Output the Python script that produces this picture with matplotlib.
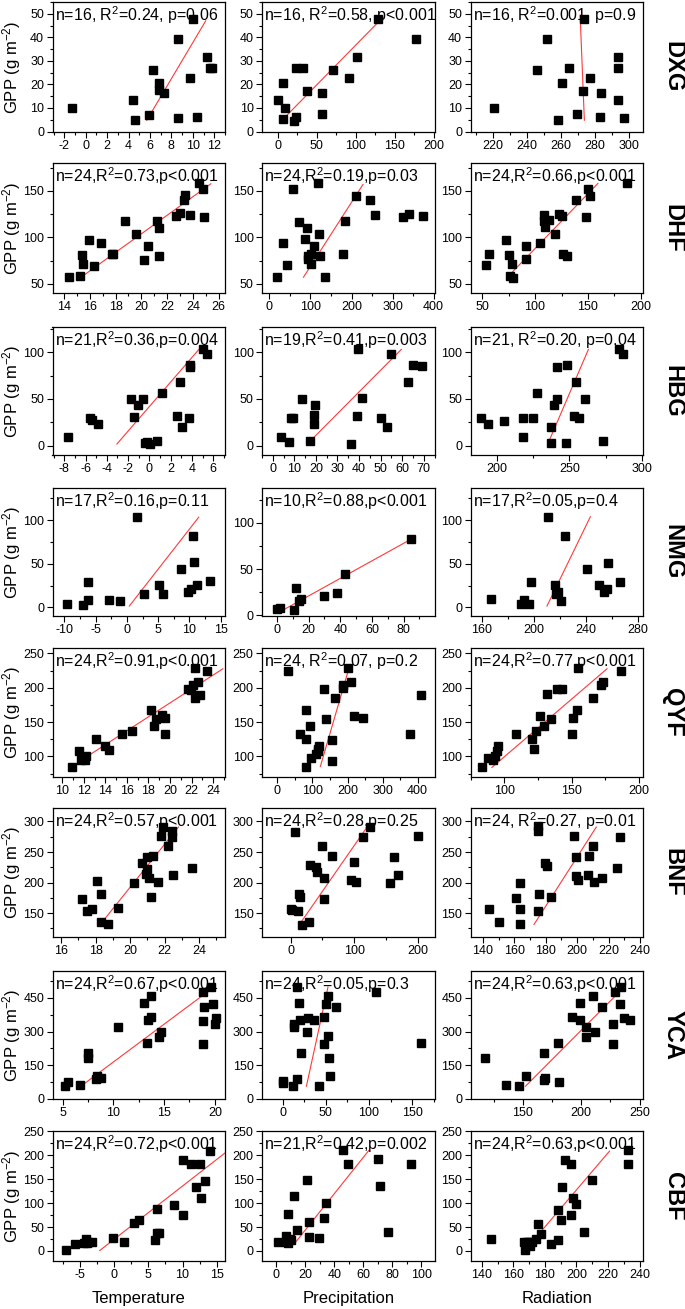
import matplotlib
matplotlib.use('Agg')
import matplotlib.pyplot as plt
from matplotlib.ticker import MultipleLocator, AutoMinorLocator

plt.rcParams['font.family'] = ['Liberation Sans', 'DejaVu Sans']
plt.rcParams['mathtext.default'] = 'regular'
plt.rcParams['axes.unicode_minus'] = False

sites = ['DXG', 'DHF', 'HBG', 'NMG', 'QYF', 'BNF', 'YCA', 'CBF']
drivers = ['Temperature', 'Precipitation', 'Radiation']

# ---- DXG ----
dxg_temp_x = [-1.3, 4.4, 4.6, 5.9, 6.3, 6.8, 6.8, 7.3, 8.6, 8.6, 9.7, 10.0, 10.4, 11.3, 11.6, 11.8]
dxg_temp_y = [10.1, 13.2, 4.8, 7.2, 26.3, 20.7, 17.5, 16.2, 39.2, 5.6, 22.8, 47.6, 6.3, 31.7, 27.0, 27.0]
dxg_temp_fit = ([5.7, 11.2], [4.8, 47.0])
dxg_prec_x = [0, 6.3, 7.4, 9.7, 21, 23.4, 23.4, 32.6, 37.7, 56.6, 56.6, 71.4, 92, 101.7, 129, 177]
dxg_prec_y = [13.2, 20.6, 5.5, 10.1, 4.5, 6.3, 27, 27, 17.3, 16.2, 7.3, 26.3, 22.8, 31.7, 47.6, 39.2]
dxg_prec_fit = ([5.7, 135], [4.8, 48.5])
dxg_rad_x = [221, 252, 246, 261, 258.5, 265, 269.5, 273, 273.5, 277.5, 283.5, 283, 293.5, 294, 294, 297.5]
dxg_rad_y = [10.1, 39.2, 26.3, 20.6, 4.8, 27, 7.3, 17.3, 47.6, 22.8, 16.2, 6.3, 31.7, 27.0, 13.2, 5.6]
dxg_rad_fit = ([271.5, 274], [49.5, 4.8])

# ---- DHF ----
dhf_temp_x = [14.4, 15.2, 15.4, 15.5, 15.9, 16.3, 16.9, 17.7, 17.8, 18.7, 19.6, 20.2,
              20.5, 21.2, 21.4, 21.4, 22.7, 23.0, 23.3, 23.4, 23.8, 24.5, 24.8, 24.9]
dhf_temp_y = [57, 58, 81, 71, 97, 69, 94, 82, 82, 118, 104, 76,
              91, 117, 80, 110, 123, 126, 140, 145, 124, 158, 152, 122]
dhf_temp_fit = ([15.2, 25.4], [55.8, 157.6])
dhf_prec_x = [18, 33, 44, 57, 73, 86, 92, 93, 95, 101, 102, 108,
              119, 121, 124, 135, 178, 185, 210, 245, 256, 325, 340, 375]
dhf_prec_y = [57, 94, 70, 152, 116, 98, 110, 77, 80, 82, 71, 91,
              158, 104, 80, 57, 82, 118, 144, 140, 124, 122, 125, 123]
dhf_prec_fit = ([83, 228], [57, 157])
dhf_rad_x = [54, 56.6, 72.5, 75.8, 76.6, 78.3, 79.5, 91, 91.8, 105, 108.2, 108.6,
             109.4, 113.5, 119, 122.5, 125.8, 126, 130, 139, 148.4, 150, 152, 187]
dhf_rad_y = [70, 81.6, 97, 81, 58, 71, 56.5, 90.6, 77, 94, 124, 118,
             111, 118.7, 104, 125.5, 123.4, 81.6, 80, 140, 121.6, 151.8, 144, 158]
dhf_rad_fit = ([73.4, 159.4], [56.5, 158])

# ---- HBG ----
hbg_temp_x = [-7.6, -5.6, -5.4, -4.85, -1.7, -1.4, -1.07, -0.6, -0.45, -0.25, 0.08,
              0.7, 1.15, 2.6, 2.9, 3.05, 3.7, 3.8, 3.8, 5.06, 5.4]
hbg_temp_y = [9.7, 30, 27.8, 23, 50, 30.7, 43, 50, 2.9, 3.6, 2.2,
              5, 56, 31.8, 68.6, 19.9, 29.2, 86.3, 83.8, 103.6, 98.2]
hbg_temp_fit = ([-3.05, 4.65], [1.8, 103])
hbg_prec_x = [3.9, 7.6, 8.6, 9.2, 13.4, 19.5, 19.1, 18.9, 17.3, 36.2, 39, 39.7,
              41.2, 50, 53.1, 54.6, 62.8, 65.1, 69]
hbg_prec_y = [9.7, 3.6, 29.2, 29.2, 50, 43, 32.9, 23, 5.4, 1.8, 31.8, 103.6,
              50.5, 29.6, 19.9, 98.2, 68.6, 86, 85]
hbg_prec_fit = ([16.5, 59.6], [2.9, 103])
hbg_rad_x = [189, 194, 205, 218, 218, 225, 228, 237, 237.5, 239.5, 241.5,
             241.5, 247.5, 248.5, 253, 254.5, 256.5, 260.5, 273, 284, 287]
hbg_rad_y = [29.6, 23, 26.7, 29.6, 9.7, 29.6, 56, 19.9, 2.5, 43.3, 50,
             84, 3.2, 86, 31.8, 68.6, 29.6, 50, 5.4, 103.6, 98.2]
hbg_rad_fit = ([235, 263], [1.5, 103])

# ---- NMG ----
nmg_temp_x = [-9.6, -7.1, -6.3, -6.3, -2.9, -1.1, 1.6, 2.8, 5.1, 5.7, 8.7, 9.8,
              10.3, 10.5, 10.7, 11.2, 13.3]
nmg_temp_y = [3.5, 2.7, 8, 29, 8.8, 7, 104, 15.8, 25.4, 15.4, 44, 17,
              21, 82, 51.5, 26, 30.4]
nmg_temp_fit = ([0.4, 11.5], [1.5, 103.5])
nmg_prec_x = [0, 1.7, 11, 12.2, 13.9, 15.2, 29.5, 37.7, 43, 85]
nmg_prec_y = [6.5, 8, 5.4, 29.7, 15.2, 17, 20.6, 24.3, 44.2, 82.6]
nmg_prec_fit = ([4.9, 85], [6.5, 82.6])
nmg_rad_x = [167, 190, 192.5, 196.5, 198, 211, 216, 217, 218.5, 221, 224,
             241, 250, 254, 256, 257, 266]
nmg_rad_y = [9.2, 3.5, 8.5, 3.5, 29.2, 104, 25.4, 15, 17, 6.9, 82.3,
             43.8, 25.4, 17, 20.8, 51.2, 29.2]
nmg_rad_fit = ([210, 243.3], [1.5, 104])

# ---- QYF ----
qyf_temp_x = [10.9, 11.6, 11.7, 12.2, 12.1, 13.1, 14.0, 14.3, 15.5, 16.5, 18.2, 18.5,
              18.7, 19.3, 19.5, 19.55, 21.7, 22.1, 22.3, 22.35, 22.55, 22.8, 23.4, 21.9]
qyf_temp_y = [85, 108.3, 94.7, 101, 95, 125.2, 114.6, 109.7, 132.5, 137.4, 168, 143.7,
              154.9, 159.7, 155.8, 132.5, 198, 203.4, 228.6, 185, 208, 189.8, 223.8, 197]
qyf_temp_fit = ([11.5, 24.9], [91.7, 227.7])
qyf_prec_x = [29, 64, 81, 81, 81, 94, 96, 109, 116, 115, 119, 134,
              137.5, 156, 156, 164, 187.5, 187.5, 202.5, 209, 219, 244, 379, 409]
qyf_prec_y = [223.8, 132.5, 167, 125.7, 85, 143.7, 97.6, 103.9, 107.3, 111, 114.6, 198,
              154.9, 123.3, 94, 185, 199.5, 204.4, 228.6, 208.3, 158.3, 155.8, 132.5, 189.8]
qyf_prec_fit = ([122.5, 204], [85.4, 228.6])
qyf_rad_x = [83.8, 88, 91.9, 92.9, 94.5, 95.1, 109.1, 120.5, 121.8, 123.7, 126.9, 129.2,
             131.8, 134.7, 139, 143.2, 150.3, 151.3, 154.2, 154.5, 165.9, 172.1, 173, 187]
qyf_rad_y = [85, 97.6, 95, 101, 107.3, 114.6, 132.5, 125.2, 110.7, 137.4, 158.3, 144.7,
             190.8, 154.9, 198, 198.5, 132.5, 155.8, 168, 228.6, 185, 203.4, 208.3, 223.8]
qyf_rad_fit = ([90.9, 176.3], [84, 227.7])

# ---- BNF ----
bnf_temp_x = [17.2, 17.5, 17.8, 18.1, 18.3, 18.3, 18.7, 19.3, 20.2, 20.7, 20.9, 20.95,
              21.0, 21.1, 21.2, 21.3, 21.6, 21.8, 21.9, 22.2, 22.4, 22.4, 22.5, 23.6]
bnf_temp_y = [173.4, 153.3, 157.6, 203, 181, 135.3, 131.5, 158.7, 198.9, 232, 214, 222.8,
              241.8, 207, 176, 243, 201, 276.6, 290.2, 260.3, 283.7, 274.5, 213, 224]
bnf_temp_fit = ([18.3, 22.8], [132.6, 290.8])
bnf_prec_x = [0, 7.6, 11, 13.1, 14.5, 17.2, 29, 30.3, 39.3, 42, 49.7, 52.4,
              65, 51.7, 95, 99.3, 103.4, 113.8, 124, 156, 162, 168.3, 200, 1.4]
bnf_prec_y = [157, 282, 153, 181, 176, 131, 135, 229, 225, 217, 260, 208,
              243, 173, 204, 233, 201, 274, 291, 199, 242, 212, 277, 155]
bnf_prec_fit = ([13.8, 120.7], [131.5, 291.8])
bnf_rad_x = [144, 150, 160.8, 163.6, 163.6, 163.6, 175.3, 175.6, 179.4, 180.8, 183.6, 175.3,
             175.3, 197.8, 199.2, 199.2, 200.3, 206.7, 207.5, 210, 210.8, 215.8, 225.6, 227.5]
bnf_rad_y = [157.6, 135.3, 174, 199.5, 157.6, 131.5, 154.3, 181.5, 232, 226.6, 176.6, 291.8,
             283.7, 276.6, 241.3, 210.3, 204.3, 213, 243, 260.3, 201, 207.6, 224, 274.5]
bnf_rad_fit = ([172.5, 212.2], [131.5, 290.8])

# ---- YCA ----
yca_temp_x = [5.2, 5.5, 6.7, 7.5, 7.5, 8.3, 8.4, 8.8, 10.5, 13.0, 13.3, 13.4,
              13.75, 13.75, 14.5, 14.7, 18.8, 18.9, 18.8, 18.8, 19.6, 19.8, 20.0, 20.1]
yca_temp_y = [56, 76.7, 63.4, 180, 203.5, 88.5, 103, 91.4, 321.5, 427.7, 247.8, 351,
              365.8, 457, 277.3, 298, 475, 410, 346.6, 246.3, 498.5, 423.3, 331.9, 361.4]
yca_temp_fit = ([6.8, 20.0], [56, 501.5])
yca_prec_x = [0.5, 0.5, 11.7, 13.3, 13.3, 16.3, 16.8, 18.4, 20.4, 21.4, 28, 29,
              36.2, 42.3, 47.4, 47.4, 50.5, 52, 52, 53.6, 55, 61.7, 107.7, 160.7]
yca_prec_y = [81, 70.8, 56, 334.8, 320, 498.5, 88.5, 427.7, 351, 203.5, 298, 361,
              351, 56, 365.8, 246.3, 424.8, 457, 280, 180, 103, 410, 475, 247.8]
yca_prec_fit = ([27.5, 52.5], [56, 498.5])
yca_rad_x = [117.5, 135.4, 146.6, 152.2, 168, 168, 169, 180.2, 181, 192.2, 198.9, 198.9,
             204.1, 204.5, 210, 211.6, 217.5, 226.9, 226.9, 228.7, 233.2, 234.3, 236.9, 241.8]
yca_rad_y = [180, 63.4, 56, 103, 85.5, 203.5, 91, 247.8, 76.7, 365.8, 351, 427.7,
             321.5, 277.3, 457, 298, 410, 334.8, 246.3, 475, 424.8, 498.5, 361.4, 351]
yca_rad_fit = ([152.2, 236.9], [56, 498.5])

# ---- CBF ----
cbf_temp_x = [-7.1, -5.7, -4.4, -4.05, -3.95, -3.75, -3.3, -0.2, 1.4, 2.9, 3.6, 6.2,
              6.0, 6.2, 6.6, 8.7, 10.1, 11.3, 12.5, 11.9, 12.7, 13.3, 14.0, 10.1]
cbf_temp_y = [1.4, 15.3, 17.4, 24.3, 16, 19.4, 18, 26.4, 18.8, 57.6, 64.6, 86.8,
              22.9, 38.2, 36.8, 97.2, 190, 182, 182, 133, 111, 147, 210, 76]
cbf_temp_fit = ([-2.1, 16.2], [1, 205])
cbf_prec_x = [1.2, 7, 7, 8.5, 8.5, 9.4, 12, 21, 14.5, 22.4, 22.4, 29.7, 33.3, 34.2,
              45.8, 49.7, 70.3, 71.5, 76.7, 92.7, 10]
cbf_prec_y = [19.3, 31.7, 19, 77.8, 16, 24, 115, 149, 43, 60.6, 29.6, 27.5, 68.9, 100.5,
              212, 183, 191.5, 135, 40, 182, 22]
cbf_prec_fit = ([13.3, 64], [18, 211])
cbf_rad_x = [146, 166.5, 167.5, 168.5, 170, 172, 174.5, 175.8, 177.5, 183.6, 188.5, 188.5,
             190.5, 190.8, 193, 196.8, 196.5, 197.5, 199.5, 204.5, 210, 233, 233, 170.5]
cbf_rad_y = [26, 18, 2, 18, 18, 18, 24, 57, 36, 15, 23, 86,
             64, 133, 190, 183, 76, 110, 98, 40, 148, 212, 182, 11]
cbf_rad_fit = ([168, 221], [4, 209])

stats = {
    'DXG': ['n=16, R$^2$=0.24, p=0.06', 'n=16, R$^2$=0.58, p<0.001', 'n=16, R$^2$=0.001, p=0.9'],
    'DHF': ['n=24,R$^2$=0.73,p<0.001', 'n=24,R$^2$=0.19,p=0.03', 'n=24,R$^2$=0.66,p<0.001'],
    'HBG': ['n=21,R$^2$=0.36,p=0.004', 'n=19,R$^2$=0.41,p=0.003', 'n=21, R$^2$=0.20, p=0.04'],
    'NMG': ['n=17,R$^2$=0.16,p=0.11', 'n=10,R$^2$=0.88,p<0.001', 'n=17,R$^2$=0.05,p=0.4'],
    'QYF': ['n=24,R$^2$=0.91,p<0.001', 'n=24, R$^2$=0.07, p=0.2', 'n=24,R$^2$=0.77,p<0.001'],
    'BNF': ['n=24,R$^2$=0.57,p<0.001', 'n=24,R$^2$=0.28,p=0.25', 'n=24, R$^2$=0.27, p=0.01'],
    'YCA': ['n=24,R$^2$=0.67,p<0.001', 'n=24,R$^2$=0.05,p=0.3', 'n=24,R$^2$=0.63,p<0.001'],
    'CBF': ['n=24,R$^2$=0.72,p<0.001', 'n=21,R$^2$=0.42,p=0.002', 'n=24,R$^2$=0.63,p<0.001'],
}

data = {
    'DXG': [(dxg_temp_x, dxg_temp_y, dxg_temp_fit), (dxg_prec_x, dxg_prec_y, dxg_prec_fit), (dxg_rad_x, dxg_rad_y, dxg_rad_fit)],
    'DHF': [(dhf_temp_x, dhf_temp_y, dhf_temp_fit), (dhf_prec_x, dhf_prec_y, dhf_prec_fit), (dhf_rad_x, dhf_rad_y, dhf_rad_fit)],
    'HBG': [(hbg_temp_x, hbg_temp_y, hbg_temp_fit), (hbg_prec_x, hbg_prec_y, hbg_prec_fit), (hbg_rad_x, hbg_rad_y, hbg_rad_fit)],
    'NMG': [(nmg_temp_x, nmg_temp_y, nmg_temp_fit), (nmg_prec_x, nmg_prec_y, nmg_prec_fit), (nmg_rad_x, nmg_rad_y, nmg_rad_fit)],
    'QYF': [(qyf_temp_x, qyf_temp_y, qyf_temp_fit), (qyf_prec_x, qyf_prec_y, qyf_prec_fit), (qyf_rad_x, qyf_rad_y, qyf_rad_fit)],
    'BNF': [(bnf_temp_x, bnf_temp_y, bnf_temp_fit), (bnf_prec_x, bnf_prec_y, bnf_prec_fit), (bnf_rad_x, bnf_rad_y, bnf_rad_fit)],
    'YCA': [(yca_temp_x, yca_temp_y, yca_temp_fit), (yca_prec_x, yca_prec_y, yca_prec_fit), (yca_rad_x, yca_rad_y, yca_rad_fit)],
    'CBF': [(cbf_temp_x, cbf_temp_y, cbf_temp_fit), (cbf_prec_x, cbf_prec_y, cbf_prec_fit), (cbf_rad_x, cbf_rad_y, cbf_rad_fit)],
}

# axis limits and tick steps: (xlim, xstep) per column, (ylim, ystep) per panel
xaxes = {
    'DXG': [((-3.1, 13), 2), ((-20, 201), 50), ((207, 308.5), 20)],
    'DHF': [((13.1, 26.5), 2), ((-18, 402), 100), ((39, 202), 50)],
    'HBG': [((-9.1, 7.1), 2), ((-5, 75), 10), ((182, 300.5), 50)],
    'NMG': [((-11.9, 15.7), 5), ((-9.5, 99.6), 20), ((151.3, 283.7), 40)],
    'QYF': [((9.1, 25.1), 2), ((-44, 448), 100), ((75, 203), 50)],
    'BNF': [((15.5, 25.5), 2), ((-45, 226), 100), ((132, 242), 20)],
    'YCA': [((4, 21), 5), ((-24, 176), 50), ((105, 253), 50)],
    'CBF': [((-9, 16.2), 5), ((-9.7, 109), 20), ((132.8, 242.2), 20)],
}
yaxes = {
    'DXG': [((-0.2, 55), 10)] * 3,
    'DHF': [((40, 180), 50)] * 3,
    'HBG': [((-10, 127), 50)] * 3,
    'NMG': [((-10, 137), 50), ((-1, 138), 50), ((-10, 137), 50)],
    'QYF': [((70, 258), 50)] * 3,
    'BNF': [((111, 322), 50)] * 3,
    'YCA': [((-1, 570), 150)] * 3,
    'CBF': [((-21, 251), 50)] * 3,
}

W, H = 685, 1309
col_left = [52.5, 262, 470.5]
col_w = 172.5
row_top = [2, 163, 327, 488, 648, 808, 971, 1131]
row_h = [130, 130, 128, 128, 129, 129, 128, 130]

fig = plt.figure(figsize=(W / 100, H / 100), dpi=100)

for r, site in enumerate(sites):
    for c in range(3):
        ax = fig.add_axes([col_left[c] / W, 1 - (row_top[r] + row_h[r]) / H,
                           col_w / W, row_h[r] / H])
        x, y, fit = data[site][c]
        ax.plot(fit[0], fit[1], color='#ff3838', lw=0.8, zorder=2)
        ax.plot(x, y, 's', color='black', ms=5.4, zorder=3)
        (xl, xs), (yl, ys) = xaxes[site][c], yaxes[site][c]
        ax.set_xlim(xl)
        ax.set_ylim(yl)
        ax.xaxis.set_major_locator(MultipleLocator(xs))
        ax.yaxis.set_major_locator(MultipleLocator(ys))
        ax.xaxis.set_minor_locator(AutoMinorLocator(2))
        ax.yaxis.set_minor_locator(AutoMinorLocator(2))
        ax.tick_params(which='both', direction='out', top=False, right=False,
                       width=0.8, labelsize=9, pad=2)
        ax.tick_params(which='major', length=4)
        ax.tick_params(which='minor', length=2.5)
        for s in ax.spines.values():
            s.set_linewidth(0.9)
        ax.text(0.012, 0.985, stats[site][c], transform=ax.transAxes,
                ha='left', va='top', fontsize=11.5, zorder=4)
        if c == 0:
            ax.set_ylabel('GPP (g m$^{-2}$)', fontsize=12)
            ax.yaxis.set_label_coords(-0.172, 0.5)
        if r == len(sites) - 1:
            ax.set_xlabel(drivers[c], fontsize=12, labelpad=7)
    fig.text(673 / W, 1 - (row_top[r] + row_h[r] / 2) / H, site, rotation=-90,
             fontsize=17, fontweight='bold', ha='center', va='center')

fig.savefig('out.png', dpi=100)
